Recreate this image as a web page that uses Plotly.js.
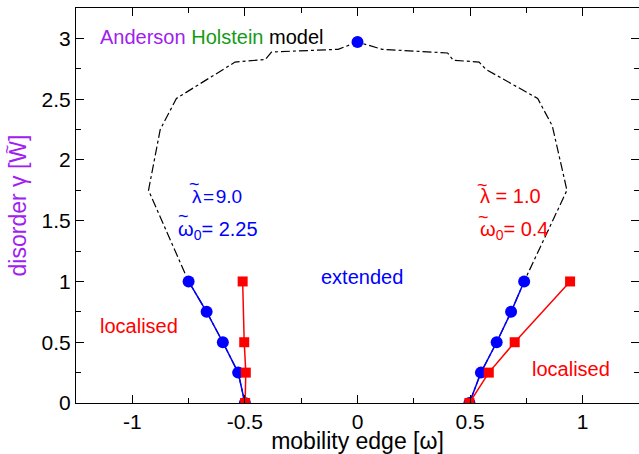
<!DOCTYPE html>
<html><head><meta charset="utf-8">
<script src="https://cdn.plot.ly/plotly-3.0.1.min.js"></script>
<style>html,body{margin:0;padding:0;background:#fff}</style>
</head><body>
<div id="chart" style="width:639px;height:454px"></div>
<script>
// Anderson model mobility edge (dash-dot)
const andersonX = [-0.5, -0.53, -0.598, -0.67, -0.75, -0.928, -0.876, -0.804, -0.544, -0.409, -0.382, -0.086, 0, 0.11, 0.40, 0.425, 0.54, 0.57, 0.80, 0.865, 0.93, 0.74, 0.682, 0.618, 0.548, 0.497];
const andersonY = [0, 0.25, 0.5, 0.75, 1.0, 1.75, 2.25, 2.506, 2.805, 2.827, 2.888, 2.91, 2.97, 2.91, 2.88, 2.82, 2.805, 2.745, 2.506, 2.28, 1.75, 1.0, 0.75, 0.5, 0.25, 0];
// lambda = 9.0, omega0 = 2.25 (blue circles)
const blueLeftX = [-0.75, -0.67, -0.598, -0.53, -0.5];
const blueLeftY = [1.0, 0.75, 0.5, 0.25, 0];
const blueRightX = [0.74, 0.682, 0.618, 0.548, 0.497];
const blueRightY = [1.0, 0.75, 0.5, 0.25, 0];
const blueTopX = [0];
const blueTopY = [2.97];
// lambda = 1.0, omega0 = 0.4 (red squares)
const redLeftX = [-0.51, -0.503, -0.496, -0.499];
const redLeftY = [1.0, 0.5, 0.25, 0];
const redRightX = [0.944, 0.698, 0.583, 0.497];
const redRightY = [1.0, 0.5, 0.25, 0];
// ticks
const xTickVals = [-1, -0.5, 0, 0.5, 1];
const xTickText = ['-1', '-0.5', '0', '0.5', '1'];
const yTickVals = [0, 0.5, 1, 1.5, 2, 2.5, 3];
const yTickText = ['0', '0.5', '1', '1.5', '2', '2.5', '3'];

const BLUE = '#0000ff', RED = '#ff0000', PURPLE = '#a020f0', GREEN = '#169b16';
const FONT = 'Liberation Sans, Arial, sans-serif';

const traces = [
  {x: andersonX, y: andersonY, mode: 'lines', line: {color: '#000', width: 1.2, dash: 'dashdot'}, hoverinfo: 'skip'},
  {x: blueLeftX, y: blueLeftY, mode: 'lines+markers', line: {color: BLUE, width: 1.5}, marker: {color: BLUE, size: 12, symbol: 'circle'}},
  {x: blueRightX, y: blueRightY, mode: 'lines+markers', line: {color: BLUE, width: 1.5}, marker: {color: BLUE, size: 12, symbol: 'circle'}},
  {x: blueTopX, y: blueTopY, mode: 'markers', marker: {color: BLUE, size: 12, symbol: 'circle'}},
  {x: redLeftX, y: redLeftY, mode: 'lines+markers', line: {color: RED, width: 1.5}, marker: {color: RED, size: 10, symbol: 'square'}},
  {x: redRightX, y: redRightY, mode: 'lines+markers', line: {color: RED, width: 1.5}, marker: {color: RED, size: 10, symbol: 'square'}}
];

const ann = (x, y, text, color, extra) => Object.assign({x, y, xref: 'x', yref: 'y', text, showarrow: false, font: {family: FONT, size: 20, color}}, extra || {});
const tilde = (x, y, color) => ({x, y, xref: 'x', yref: 'y', text: '~', showarrow: false, xanchor: 'center', yanchor: 'middle', font: {family: FONT, size: 18, color}});

const M = {l: 76, r: 0, t: 8, b: 51};
const PW = 639 - M.l - M.r, PH = 454 - M.t - M.b;

const layout = {
  width: 639, height: 454,
  margin: M,
  paper_bgcolor: '#fff', plot_bgcolor: '#fff',
  showlegend: false,
  font: {family: FONT, size: 20, color: '#000'},
  xaxis: {
    range: [-1.25, 1.25], tickvals: xTickVals, ticktext: xTickText,
    ticks: 'inside', ticklen: 8, tickwidth: 1, tickcolor: '#000',
    minor: {dtick: 0.25, tick0: 0, ticks: 'inside', ticklen: 5, tickcolor: '#000', showgrid: false},
    showline: true, linecolor: '#000', linewidth: 1, mirror: 'allticks',
    showgrid: false, zeroline: false,
    tickfont: {family: FONT, size: 21, color: '#000'},
    title: {text: 'mobility edge [ω]', font: {family: FONT, size: 23, color: '#000'}, standoff: 1}
  },
  yaxis: {
    range: [0, 3.25], tickvals: yTickVals, ticktext: yTickText,
    ticks: 'inside', ticklen: 8, tickwidth: 1, tickcolor: '#000',
    minor: {dtick: 0.25, tick0: 0, ticks: 'inside', ticklen: 5, tickcolor: '#000', showgrid: false},
    showline: true, linecolor: '#000', linewidth: 1, mirror: 'allticks',
    showgrid: false, zeroline: false,
    tickfont: {family: FONT, size: 21, color: '#000'},
    title: {text: 'disorder γ [W]', font: {family: FONT, size: 23, color: PURPLE}, standoff: 8}
  },
  annotations: [
    ann(-1.154, 3.01, '<span style="color:' + PURPLE + '">Anderson</span> <span style="color:' + GREEN + '">Holstein</span> model', '#000', {xanchor: 'left'}),
    ann(-0.746, 1.70, 'λ\u200a=\u200a9.0', BLUE, {xanchor: 'left', font: {family: FONT, size: 19, color: BLUE}}),
    tilde(-0.724, 1.80, BLUE),
    ann(-0.804, 1.42, 'ω<sub>0</sub>= 2.25', BLUE, {xanchor: 'left'}),
    tilde(-0.773, 1.54, BLUE),
    ann(0.533, 1.70, 'λ = 1.0', RED, {xanchor: 'left'}),
    tilde(0.555, 1.79, RED),
    ann(0.533, 1.42, 'ω<sub>0</sub>= 0.4', RED, {xanchor: 'left'}),
    tilde(0.56, 1.53, RED),
    ann(0.02, 1.04, 'extended', BLUE),
    ann(-0.97, 0.63, 'localised', RED),
    ann(0.95, 0.28, 'localised', RED),
    // tilde over the W of the y-axis title
    {x: (8 - M.l) / PW, y: 1 - (150 - M.t) / PH, xref: 'paper', yref: 'paper', text: '~', showarrow: false,
     textangle: -90, xanchor: 'center', yanchor: 'middle', font: {family: FONT, size: 16, color: PURPLE}}
  ]
};

Plotly.newPlot('chart', traces, layout, {displayModeBar: false, staticPlot: true});
</script>
</body></html>
